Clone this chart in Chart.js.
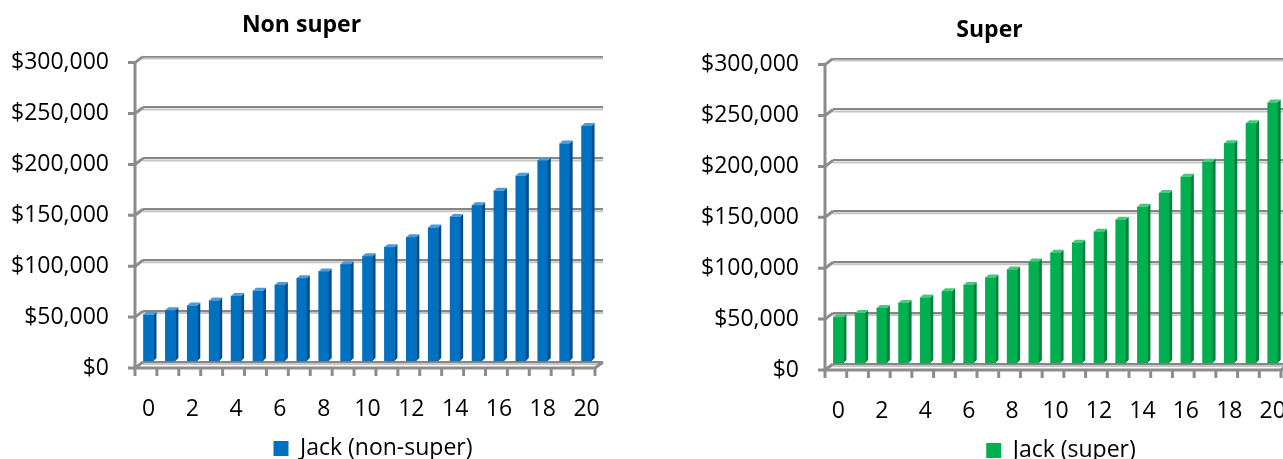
<!DOCTYPE html>
<html>
<head>
<meta charset="utf-8">
<script src="https://cdn.jsdelivr.net/npm/chart.js@4.4.1/dist/chart.umd.min.js"></script>
<style>
  html, body { margin: 0; padding: 0; background: #fff; overflow: hidden; width: 1283px; height: 459px; }
  #nonSuperChart { position: absolute; left: 0; top: 0; }
  #superChart { position: absolute; left: 690px; top: 2px; }
</style>
</head>
<body>
<canvas id="nonSuperChart" width="622" height="459"></canvas>
<canvas id="superChart" width="660" height="459"></canvas>
<script>
// years on the x axis
const years = [0, 1, 2, 3, 4, 5, 6, 7, 8, 9, 10, 11, 12, 13, 14, 15, 16, 17, 18, 19, 20];
const xTickLabels = [0, 2, 4, 6, 8, 10, 12, 14, 16, 18, 20];
const yTickValues = [0, 50000, 100000, 150000, 200000, 250000, 300000];

// balances
const jackNonSuper = [46400, 50900, 55400, 60300, 64800, 69900, 75700, 82200, 89000, 96000,
  104000, 112800, 122500, 132000, 142500, 154000, 168200, 183000, 198000, 214600, 231800];
const jackSuper = [46000, 50000, 54900, 60000, 65300, 71500, 77700, 84900, 92800, 100600,
  109400, 119200, 130000, 141800, 154500, 168000, 183900, 198700, 216800, 236500, 256900];

Chart.defaults.font.family = "'Open Sans', sans-serif";
Chart.defaults.color = '#000';

const DX = 8, DY = 6; // 3d depth of the frame

// fake excel 3d look: front axis frame, gridline shade, bar side and top faces
const depthPlugin = {
  id: 'depth',
  beforeDatasetsDraw(chart) {
    const { ctx, chartArea: a, scales: { x, y } } = chart;
    ctx.save();
    ctx.lineCap = 'butt';
    ctx.strokeStyle = '#c6c6c6';
    ctx.lineWidth = 2;
    y.ticks.forEach(t => {
      const py = y.getPixelForValue(t.value) + 2;
      ctx.beginPath(); ctx.moveTo(a.left, py); ctx.lineTo(a.right, py); ctx.stroke();
    });

    ctx.strokeStyle = '#8c8c8c';
    ctx.lineWidth = 3;
    ctx.beginPath();
    ctx.moveTo(a.left - DX, a.top + DY);
    ctx.lineTo(a.left - DX, a.bottom + DY);
    ctx.lineTo(a.right - DX, a.bottom + DY);
    ctx.lineTo(a.right, a.bottom);
    ctx.stroke();

    y.ticks.forEach(t => {
      const py = y.getPixelForValue(t.value);
      ctx.beginPath();
      ctx.moveTo(a.left - DX - 7, py + DY);
      ctx.lineTo(a.left - DX, py + DY);
      ctx.lineTo(a.left, py);
      ctx.stroke();
    });

    for (let k = 0; k <= years.length; k++) {
      const px = x.getPixelForValue(k - 0.25) - DX;
      ctx.beginPath();
      ctx.moveTo(px, a.bottom + DY);
      ctx.lineTo(px, a.bottom + DY + 8);
      ctx.stroke();
    }
    ctx.restore();
  },
  afterDatasetsDraw(chart, args, opts) {
    const { ctx } = chart;
    ctx.save();
    chart.getSortedVisibleDatasetMetas().forEach(meta => {
      meta.data.forEach(bar => {
        const { x: bx, y: by, base, width } = bar.getProps(['x', 'y', 'base', 'width'], true);
        const l = bx - width / 2, r = bx + width / 2;
        ctx.fillStyle = opts.side;
        ctx.beginPath();
        ctx.moveTo(r, by); ctx.lineTo(r + 3, by - 3); ctx.lineTo(r + 3, base - 3); ctx.lineTo(r, base);
        ctx.closePath(); ctx.fill();
        ctx.fillStyle = opts.top;
        ctx.beginPath();
        ctx.moveTo(l, by); ctx.lineTo(l + 3, by - 3); ctx.lineTo(r + 3, by - 3); ctx.lineTo(r, by);
        ctx.closePath(); ctx.fill();
      });
    });
    ctx.restore();
  }
};

function makeChart(id, title, label, values, color, side, top, padRight, titleTop) {
  return new Chart(document.getElementById(id), {
    type: 'bar',
    data: {
      datasets: [{
        label: label,
        data: years.map((yr, i) => ({ x: yr, y: values[i] })),
        backgroundColor: color,
        borderWidth: 0,
        barThickness: 10
      }]
    },
    options: {
      responsive: false,
      animation: false,
      layout: { padding: { left: 0, right: padRight, top: 0, bottom: -11 } },
      scales: {
        x: {
          type: 'linear',
          offset: false,
          min: -0.25,
          max: years.length - 0.25,
          afterBuildTicks: (scale) => { scale.ticks = xTickLabels.map(v => ({ value: v })); },
          afterFit: (scale) => { scale.height = 65; },
          // invisible ticks only used to push the labels down
          grid: { display: true, color: 'transparent', tickColor: 'transparent', drawTicks: true, tickLength: 34, offset: false },
          border: { display: false },
          ticks: { font: { size: 23 }, padding: 0, maxRotation: 0, autoSkip: false }
        },
        y: {
          min: 0,
          max: 300000,
          afterBuildTicks: (scale) => { scale.ticks = yTickValues.map(v => ({ value: v })); },
          afterFit: (scale) => { scale.width = 143; },
          grid: { color: '#868686', lineWidth: 2, drawTicks: true, tickLength: 34, tickColor: 'transparent' },
          border: { display: false },
          ticks: {
            font: { size: 23 },
            padding: 0,
            labelOffset: 6,
            callback: (v) => '$' + v.toLocaleString('en-US')
          }
        }
      },
      plugins: {
        title: {
          display: true,
          text: title,
          font: { size: 23, weight: 'bold' },
          padding: { top: titleTop, bottom: 29 - titleTop }
        },
        legend: {
          position: 'bottom',
          fullSize: false,
          labels: { boxWidth: 15, boxHeight: 15, font: { size: 23 }, padding: 10 }
        },
        tooltip: { enabled: false },
        depth: { side: side, top: top }
      }
    },
    plugins: [depthPlugin]
  });
}

makeChart('nonSuperChart', 'Non super', 'Jack (non-super)', jackNonSuper, '#0070c0', '#004f8c', '#4f9ad8', 19, 12);
makeChart('superChart', 'Super', 'Jack (super)', jackSuper, '#00b050', '#00843b', '#45c97a', 61, 15);
</script>
</body>
</html>
